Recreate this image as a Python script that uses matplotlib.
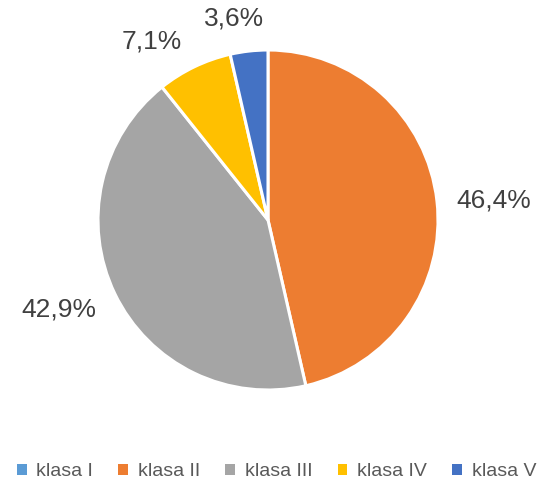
import matplotlib
matplotlib.use("Agg")
import matplotlib.pyplot as plt
import numpy as np
from matplotlib.patches import Patch

categories = ["klasa I", "klasa II", "klasa III", "klasa IV", "klasa V"]
values = [0, 13, 12, 2, 1]
colors = ["#5B9BD5", "#ED7D31", "#A5A5A5", "#FFC000", "#4472C4"]

# label placement (radius, angle offset in degrees) per category
label_radius = [1.3, 1.335, 1.338, 1.253, 1.205]
label_dtheta = [0, -1.4, -2.5, 7.5, 3.2]

plt.rcParams['font.family'] = ['Liberation Sans', 'DejaVu Sans']

W, H = 537, 482
fig = plt.figure(figsize=(W/100, H/100), dpi=100)
cx, cy, r = 268, 220, 170
ax = fig.add_axes([(cx - r)/W, (H - cy - r)/H, 2*r/W, 2*r/H])

total = sum(values)
nz = [(c, v, col, lr, dt) for c, v, col, lr, dt in zip(categories, values, colors, label_radius, label_dtheta) if v > 0]
wedges, _ = ax.pie([v for _, v, _, _, _ in nz], colors=[col for _, _, col, _, _ in nz],
                   startangle=90, counterclock=False,
                   wedgeprops=dict(edgecolor="white", linewidth=2.2))
for w, (c, v, col, lr, dt) in zip(wedges, nz):
    th = np.deg2rad((w.theta1 + w.theta2) / 2 + dt)
    pct = f"{100*v/total:.1f}%".replace(".", ",")
    ax.text(lr*np.cos(th), lr*np.sin(th), pct, ha="center", va="center",
            fontsize=19, color="#404040")
ax.set_xlim(-1, 1)
ax.set_ylim(-1, 1)
ax.set_aspect("equal")
ax.axis("off")

handles = [Patch(facecolor=col, edgecolor="none") for col in colors]
fig.legend(handles, categories, loc="center", bbox_to_anchor=(0.515, 10/H), ncol=5,
           frameon=False, fontsize=14, handlelength=0.5, handleheight=0.5,
           handletextpad=0.5, columnspacing=1.3, labelcolor="#595959")

fig.savefig("out.png", dpi=100)
